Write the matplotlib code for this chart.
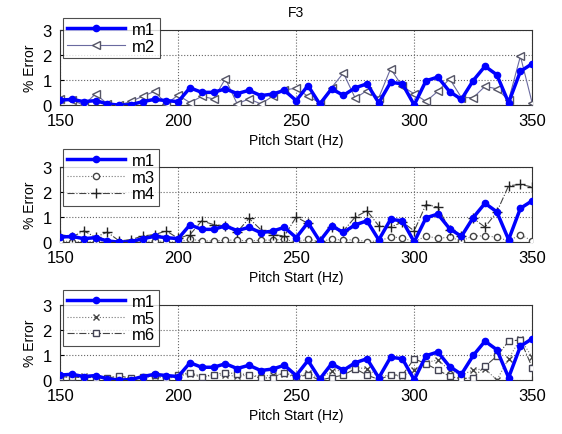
import numpy as np
import matplotlib
matplotlib.use("Agg")
import matplotlib.pyplot as plt

pitch = list(range(150, 351, 5))

m1 = [0.2, 0.23, 0.14, 0.18, 0.05, 0.0, 0.02, 0.14, 0.23, 0.18, 0.14,
      0.69, 0.51, 0.51, 0.65, 0.46, 0.59, 0.38, 0.44, 0.59, 0.18,
      0.78, 0.04, 0.65, 0.39, 0.69, 0.85, 0.09, 0.91, 0.85, 0.01,
      0.97, 1.12, 0.54, 0.23, 0.98, 1.55, 1.21, 0.1, 1.35, 1.65]
m2 = [0.25, 0.2, 0.0, 0.45, 0.05, 0.0, 0.15, 0.35, 0.55, 0.05, 0.4,
      0.1, 0.35, 0.25, 1.05, 0.05, 0.25, 0.05, 0.35, 0.6, 0.68,
      0.35, 0.1, 0.7, 1.28, 0.28, 0.58, 0.3, 1.45, 0.75, 0.45,
      0.15, 0.55, 1.05, 0.3, 0.3, 0.75, 0.65, 0.2, 1.95, 0.08]
m3 = [0.05, 0.02, 0.02, 0.02, 0.0, 0.02, 0.0, 0.02, 0.05, 0.02, 0.0,
      0.12, 0.05, 0.05, 0.08, 0.08, 0.05, 0.08, 0.08, 0.12, 0.0,
      0.12, 0.02, 0.12, 0.08, 0.1, 0.02, 0.05, 0.2, 0.18, 0.0,
      0.25, 0.15, 0.2, 0.05, 0.25, 0.25, 0.2, 0.05, 0.3, 0.05]
m4 = [0.3, 0.2, 0.45, 0.2, 0.4, 0.05, 0.1, 0.25, 0.3, 0.45, 0.15,
      0.3, 0.85, 0.7, 0.65, 0.4, 0.95, 0.5, 0.3, 0.25, 1.0,
      0.75, 0.05, 0.6, 0.45, 1.0, 1.25, 0.65, 0.6, 0.8, 0.45,
      1.5, 1.4, 0.5, 0.25, 0.95, 0.6, 1.2, 2.25, 2.3, 2.2]
m5 = [0.15, 0.1, 0.15, 0.1, 0.05, 0.1, 0.05, 0.1, 0.15, 0.05, 0.15,
      0.25, 0.1, 0.2, 0.2, 0.15, 0.2, 0.15, 0.2, 0.25, 0.1,
      0.3, 0.05, 0.35, 0.4, 0.5, 0.45, 0.15, 0.2, 0.15, 0.4,
      0.7, 0.8, 0.4, 0.2, 0.4, 0.45, 0.0, 0.85, 1.65, 0.9]
m6 = [0.13, 0.12, 0.1, 0.1, 0.07, 0.17, 0.07, 0.13, 0.2, 0.1, 0.2,
      0.3, 0.13, 0.22, 0.3, 0.25, 0.22, 0.07, 0.1, 0.3, 0.13,
      0.2, 0.0, 0.1, 0.2, 0.45, 0.2, 0.02, 0.2, 0.2, 0.85,
      0.65, 0.4, 0.15, 0.05, 0.1, 0.55, 0.95, 1.55, 1.6, 0.5]

x_ticks = [150, 200, 250, 300, 350]
y_ticks = [0, 1, 2, 3]

plt.rcParams['font.family'] = ['Liberation Sans', 'DejaVu Sans']

fig = plt.figure(figsize=(5.62, 4.35), dpi=100)

left, width = 0.107, 0.84
bottoms = [0.756, 0.441, 0.124]
height = 0.173

m1_style = dict(color='#0000ff', lw=2.5, marker='o', ms=4.5, mfc='#0000ff', mec='#0000ff', label='m1')
others = [
    [dict(data=m2, color='#6a6aa0', lw=0.8, ls='-', marker='<', ms=5.5, mfc='white', mec='#555566', label='m2')],
    [dict(data=m3, color='#777777', lw=0.8, ls=':', marker='o', ms=4.5, mfc='white', mec='#444444', label='m3'),
     dict(data=m4, color='#444444', lw=0.8, ls='-.', marker='+', ms=7, mfc='none', mec='#222222', label='m4')],
    [dict(data=m5, color='#777777', lw=0.8, ls=':', marker='x', ms=4.5, mfc='none', mec='#444444', label='m5'),
     dict(data=m6, color='#444444', lw=0.8, ls='-.', marker='s', ms=4.5, mfc='white', mec='#444455', label='m6')],
]
legend_anchor = [(0.006, 1.16), (0.006, 1.24), (0.006, 1.2)]

for i, b in enumerate(bottoms):
    ax = fig.add_axes([left, b, width, height])
    ax.plot(pitch, m1, zorder=4, **m1_style)
    for s in others[i]:
        d = dict(s)
        data = d.pop('data')
        ax.plot(pitch, data, zorder=3, **d)
    ax.set_xlim(150, 350)
    ax.set_ylim(0, 3)
    ax.set_xticks(x_ticks)
    ax.set_yticks(y_ticks)
    ax.grid(True, ls=':', color='#666666', lw=0.8)
    ax.tick_params(labelsize=12, direction='in', length=3)
    ax.tick_params(axis='x', pad=6)
    ax.tick_params(axis='y', pad=6)
    ax.set_xlabel('Pitch Start (Hz)', fontsize=10, labelpad=3)
    ax.set_ylabel('% Error', fontsize=10, labelpad=4)
    for sp in ax.spines.values():
        sp.set_linewidth(0.8)
        sp.set_color('#333333')
    leg = ax.legend(loc='upper left', bbox_to_anchor=legend_anchor[i], borderaxespad=0,
                    fontsize=12, frameon=True, fancybox=False, edgecolor='#222222',
                    handlelength=3.5, labelspacing=0.1, borderpad=0.25, handletextpad=0.4)
    leg.get_frame().set_linewidth(0.8)
    leg.set_zorder(10)
    if i == 0:
        ax.set_title('F3', fontsize=10, pad=10)

fig.savefig('out.png', dpi=100)
